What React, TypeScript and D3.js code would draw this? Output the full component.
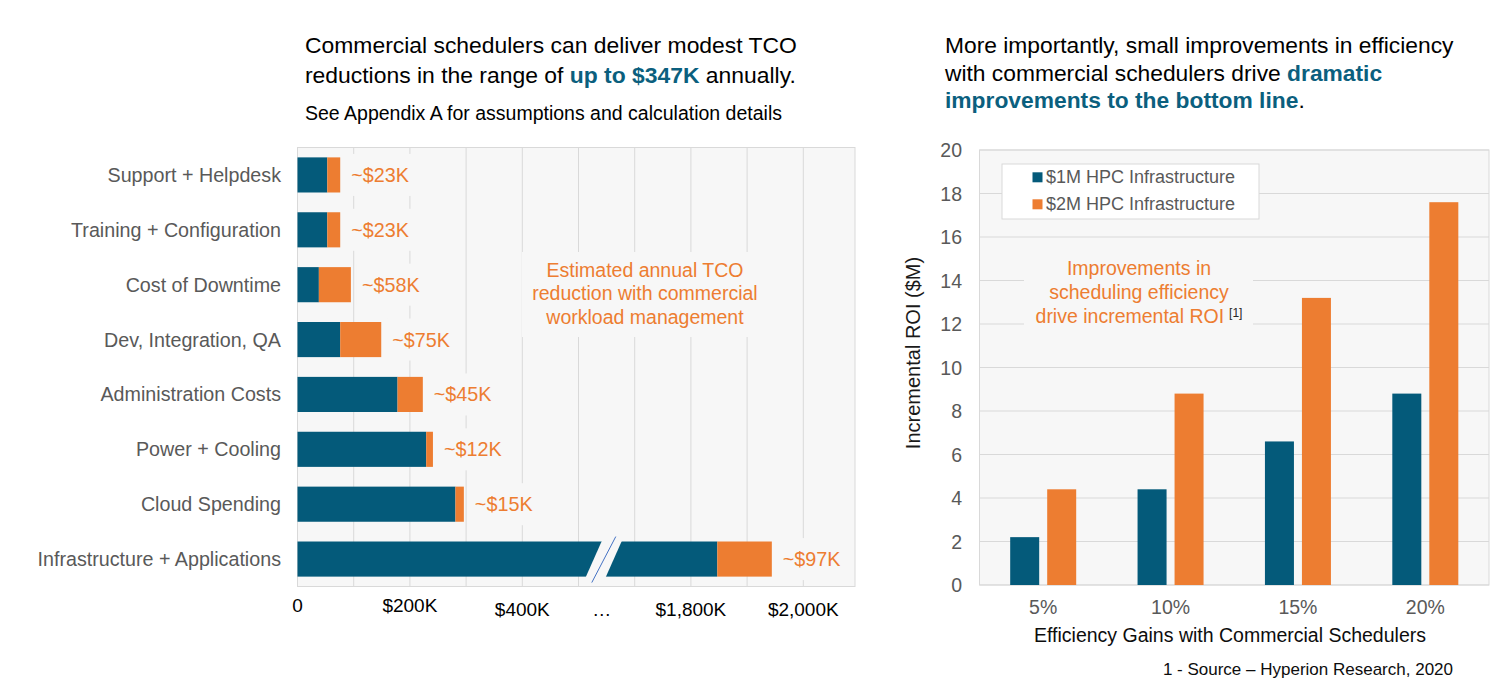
import React from 'react';
import * as d3 from 'd3';

// ---------- Left chart data ($K) ----------
const categories = [
  'Support + Helpdesk',
  'Training + Configuration',
  'Cost of Downtime',
  'Dev, Integration, QA',
  'Administration Costs',
  'Power + Cooling',
  'Cloud Spending',
  'Infrastructure + Applications',
];
const baseCost = [53, 53, 38, 76, 178, 229, 281, 1847];
const reduction = [23, 23, 57, 73, 45, 12, 15, 97];
const reductionLabels = ['~$23K', '~$23K', '~$58K', '~$75K', '~$45K', '~$12K', '~$15K', '~$97K'];
const xTickValues = [0, 200, 400, 1800, 2000];
const xTickLabels = ['0', '$200K', '$400K', '$1,800K', '$2,000K'];
const BREAK_GAP = 1100; // $K removed by the axis break
const BREAK_AT = 545; // display position of the break ($K before the gap)

// ---------- Right chart data ($M) ----------
const efficiency = ['5%', '10%', '15%', '20%'];
const roi1M = [2.2, 4.4, 6.6, 8.8];
const roi2M = [4.4, 8.8, 13.2, 17.6];
const yTicks = [0, 2, 4, 6, 8, 10, 12, 14, 16, 18, 20];
const seriesNames = ['$1M HPC Infrastructure', '$2M HPC Infrastructure'];

const BLUE = '#045a7a';
const ORANGE = '#ed7d31';
const TEAL = '#0b5f7e';
const GRAY = '#595959';
const GRID = '#d9d9d9';
const PLOT_BG = '#f7f7f7';
const FONT = '"Liberation Sans", Arial, Helvetica, sans-serif';

export default function App() {
  // left scales
  const L = { x0: 297.5, x1: 855, y0: 147.5, y1: 586.5 };
  const xLin = d3.scaleLinear().domain([0, 1000]).range([297.5, 859.5]);
  const disp = (v: number) => (v > BREAK_AT + 100 ? v - BREAK_GAP : v);
  const xs = (v: number) => xLin(disp(v));
  const yBand = d3
    .scaleBand<string>()
    .domain(categories)
    .range([L.y0, L.y1])
    .paddingInner(0.36)
    .paddingOuter(0.18);
  const gridVals = d3.range(0, 1000, 100);

  // right scales
  const R = { x0: 979.5, x1: 1489, y0: 150, y1: 585 };
  const xBand = d3.scaleBand<string>().domain(efficiency).range([R.x0, R.x1]);
  const yLin = d3.scaleLinear().domain([0, 20]).range([R.y1, R.y0]);
  const barW = 29;

  const cx = xLin(BREAK_AT);
  const infraIdx = categories.length - 1;
  const iy = yBand(categories[infraIdx])!;
  const bh = yBand.bandwidth();
  const mid = iy + bh / 2;

  return (
    <svg
      width={1509}
      height={697}
      style={{ position: 'absolute', left: 0, top: 0, background: '#ffffff' }}
      fontFamily={FONT}
    >
      <rect x={0} y={0} width={1509} height={697} fill="#ffffff" />

      {/* ---------------- Left titles ---------------- */}
      <text x={305} y={53} fontSize={22.9} fill="#000">
        Commercial schedulers can deliver modest TCO
      </text>
      <text x={305} y={83} fontSize={22.9} fill="#000">
        reductions in the range of{' '}
        <tspan fill={TEAL} fontWeight="bold">up to $347K</tspan> annually.
      </text>
      <text x={305} y={120} fontSize={19.5} fill="#000">
        See Appendix A for assumptions and calculation details
      </text>

      {/* ---------------- Left plot ---------------- */}
      <rect x={L.x0} y={L.y0} width={L.x1 - L.x0} height={L.y1 - L.y0} fill={PLOT_BG} stroke={GRID} strokeWidth={1} />
      {gridVals.map((g) => (
        <line key={g} x1={xLin(g)} x2={xLin(g)} y1={L.y0} y2={L.y1} stroke={GRID} strokeWidth={1} />
      ))}
      {/* annotation background */}
      <rect x={522} y={252} width={248} height={85} fill={PLOT_BG} />
      <text textAnchor="middle" fontSize={19.5} fill={ORANGE}>
        <tspan x={645} y={276.5}>Estimated annual TCO</tspan>
        <tspan x={645} y={300}>reduction with commercial</tspan>
        <tspan x={645} y={323.5}>workload management</tspan>
      </text>

      {/* value label backgrounds + labels */}
      {categories.map((c, i) => {
        const end = xs(baseCost[i] + reduction[i]);
        const y = yBand(c)! + bh / 2;
        const w = reductionLabels[i].length * 11.2;
        return (
          <g key={'lab' + c}>
            <rect x={end + 6} y={y - 21} width={w + 10} height={42} fill={PLOT_BG} />
            <text x={end + 11} y={y + 7} fontSize={19.8} fill={ORANGE}>
              {reductionLabels[i]}
            </text>
          </g>
        );
      })}

      {/* bars */}
      {categories.map((c, i) => {
        const y = yBand(c)!;
        const x0 = xs(0);
        const x1 = xs(baseCost[i]);
        const x2 = xs(baseCost[i] + reduction[i]);
        return (
          <g key={'bar' + c}>
            <rect x={x0} y={y} width={x1 - x0} height={bh} fill={BLUE} />
            <rect x={x1} y={y} width={x2 - x1} height={bh} fill={ORANGE} />
          </g>
        );
      })}

      {/* axis break on the Infrastructure bar */}
      <polygon
        points={`${cx - 2},${iy - 0.5} ${cx + 18},${iy - 0.5} ${cx + 2},${iy + bh + 0.5} ${cx - 18},${iy + bh + 0.5}`}
        fill={PLOT_BG}
      />
      <line x1={cx - 12} y1={mid + 23.5} x2={cx + 12} y2={mid - 22.5} stroke="#4472c4" strokeWidth={1} />

      {/* category labels */}
      {categories.map((c) => (
        <text key={'cat' + c} x={281} y={yBand(c)! + bh / 2 + 7} textAnchor="end" fontSize={19.7} fill={GRAY}>
          {c}
        </text>
      ))}

      {/* x tick labels */}
      {xTickValues.map((v, i) => (
        <text key={'xt' + v} x={xs(v)} y={i < 2 ? 612 : 615.5} textAnchor="middle" fontSize={19} fill="#000">
          {xTickLabels[i]}
        </text>
      ))}
      <text x={xLin(BREAK_AT) - 2} y={615.5} textAnchor="middle" fontSize={19} fill="#000">
        …
      </text>

      {/* ---------------- Right titles ---------------- */}
      <text x={945} y={53} fontSize={22.8} fill="#000">
        More importantly, small improvements in efficiency
      </text>
      <text x={945} y={80.5} fontSize={22.8} fill="#000">
        with commercial schedulers drive{' '}
        <tspan fill={TEAL} fontWeight="bold">dramatic</tspan>
      </text>
      <text x={945} y={108} fontSize={22.8} fill="#000">
        <tspan fill={TEAL} fontWeight="bold">improvements to the bottom line</tspan>.
      </text>

      {/* ---------------- Right plot ---------------- */}
      <rect x={R.x0} y={R.y0} width={R.x1 - R.x0} height={R.y1 - R.y0} fill={PLOT_BG} stroke={GRID} strokeWidth={1} />
      {yTicks.map((t) => (
        <line key={'yg' + t} x1={R.x0} x2={R.x1} y1={yLin(t)} y2={yLin(t)} stroke={GRID} strokeWidth={1} />
      ))}
      {yTicks.map((t) => (
        <text key={'yt' + t} x={962} y={yLin(t) + 7} textAnchor="end" fontSize={19.5} fill={GRAY}>
          {t}
        </text>
      ))}

      {/* annotation background */}
      <rect x={1024} y={250} width={229} height={85} fill={PLOT_BG} />
      <text textAnchor="middle" fontSize={19.5} fill={ORANGE}>
        <tspan x={1139} y={275}>Improvements in</tspan>
        <tspan x={1139} y={299}>scheduling efficiency</tspan>
        <tspan x={1139} y={322.5}>
          drive incremental ROI
          <tspan fontSize={12} fill="#262626" dx={5} dy={-6}>[1]</tspan>
        </tspan>
      </text>

      {/* legend */}
      <rect x={1002} y={164} width={257} height={55} fill="#ffffff" stroke={GRID} strokeWidth={1} />
      {seriesNames.map((s, i) => (
        <g key={s}>
          <rect x={1032.5} y={172.3 + i * 27} width={10} height={10} fill={i === 0 ? BLUE : ORANGE} />
          <text x={1046} y={183 + i * 27} fontSize={18} fill={GRAY}>
            {s}
          </text>
        </g>
      ))}

      {/* bars */}
      {efficiency.map((e, i) => {
        const c = xBand(e)! + xBand.bandwidth() / 2;
        return (
          <g key={'rb' + e}>
            <rect x={c - 33} y={yLin(roi1M[i])} width={barW} height={yLin(0) - yLin(roi1M[i])} fill={BLUE} />
            <rect x={c + 4} y={yLin(roi2M[i])} width={barW} height={yLin(0) - yLin(roi2M[i])} fill={ORANGE} />
          </g>
        );
      })}

      {/* x tick labels */}
      {efficiency.map((e) => (
        <text key={'xl' + e} x={xBand(e)! + xBand.bandwidth() / 2} y={614} textAnchor="middle" fontSize={19.5} fill={GRAY}>
          {e}
        </text>
      ))}

      {/* axis titles */}
      <text x={1230} y={642} textAnchor="middle" fontSize={19.5} fill="#0d0d0d">
        Efficiency Gains with Commercial Schedulers
      </text>
      <text transform="translate(920,353) rotate(-90)" textAnchor="middle" fontSize={20} fill="#1a1a1a">
        Incremental ROI ($M)
      </text>
      <text x={1453} y={675} textAnchor="end" fontSize={17} fill="#0d0d0d">
        1 - Source – Hyperion Research, 2020
      </text>
    </svg>
  );
}
